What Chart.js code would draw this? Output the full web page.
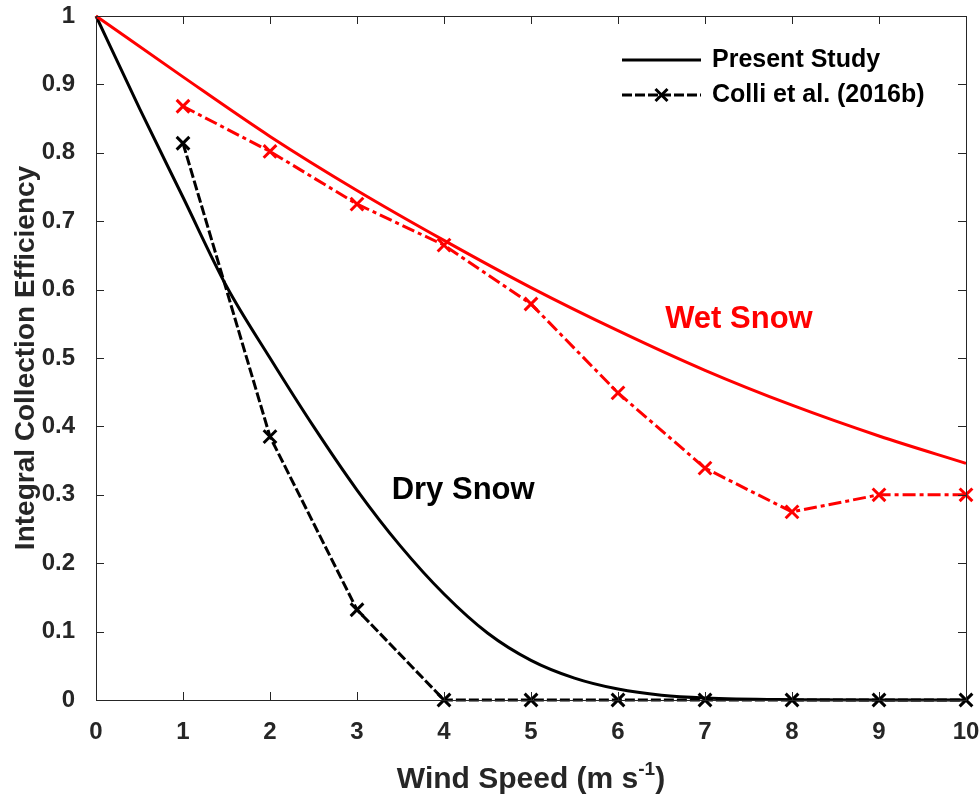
<!DOCTYPE html>
<html>
<head>
<meta charset="utf-8">
<script src="https://cdn.jsdelivr.net/npm/chart.js@4.4.1/dist/chart.umd.min.js"></script>
<style>
  html, body { margin: 0; padding: 0; background: #ffffff; }
</style>
</head>
<body>
<canvas id="chart" width="979" height="795"></canvas>
<script>
// values
const windSpeed = [0, 1, 2, 3, 4, 5, 6, 7, 8, 9, 10];
const wetPresent = [1, 0.911, 0.824, 0.745, 0.672, 0.603, 0.540, 0.482, 0.431, 0.386, 0.346];

const dryX = [0, 0.5, 1, 1.5, 2, 2.5, 3, 3.5, 4, 4.5, 5, 5.5, 6, 6.5, 7, 8, 9, 10];
const dryPresent = [1, 0.865, 0.735, 0.605, 0.50, 0.40, 0.307, 0.225, 0.155, 0.098, 0.058, 0.032, 0.016, 0.007, 0.003, 0.0005, 0, 0];

const colliX = [1, 2, 3, 4, 5, 6, 7, 8, 9, 10];
const colliWet = [0.868, 0.802, 0.725, 0.665, 0.579, 0.449, 0.339, 0.275, 0.30, 0.30];
const colliDry = [0.814, 0.385, 0.132, 0, 0, 0, 0, 0, 0, 0];

const FONT = '"Liberation Sans", Arial, Helvetica, sans-serif';
const AXIS_COLOR = '#262626';

const pts = (xs, ys) => xs.map((x, i) => ({ x: x, y: ys[i] }));

// MATLAB-like box, inward ticks, labels, legend and x title
const matlabFrame = {
  id: 'matlabFrame',
  afterDatasetsDraw(chart) {
    const { ctx, chartArea: a, scales: { x, y } } = chart;
    const tick = 8;
    ctx.save();

    // box + ticks
    ctx.strokeStyle = AXIS_COLOR;
    ctx.lineWidth = 1;
    ctx.strokeRect(a.left + 0.5, a.top + 0.5, a.right - a.left, a.bottom - a.top);
    ctx.beginPath();
    x.ticks.forEach(t => {
      const px = Math.round(x.getPixelForValue(t.value)) + 0.5;
      ctx.moveTo(px, a.bottom); ctx.lineTo(px, a.bottom - tick);
      ctx.moveTo(px, a.top); ctx.lineTo(px, a.top + tick);
    });
    y.ticks.forEach(t => {
      const py = Math.round(y.getPixelForValue(t.value)) + 0.5;
      ctx.moveTo(a.left, py); ctx.lineTo(a.left + tick, py);
      ctx.moveTo(a.right, py); ctx.lineTo(a.right - tick, py);
    });
    ctx.stroke();

    // curve labels
    ctx.font = 'bold 31px ' + FONT;
    ctx.textAlign = 'center';
    ctx.textBaseline = 'middle';
    ctx.fillStyle = '#ff0000';
    ctx.fillText('Wet Snow', x.getPixelForValue(7.39), y.getPixelForValue(0.556));
    ctx.fillStyle = '#000000';
    ctx.fillText('Dry Snow', x.getPixelForValue(4.22), y.getPixelForValue(0.307));

    // legend
    const lx0 = 622, lx1 = 701, tx = 712;
    const rows = [60, 95];
    ctx.strokeStyle = '#000000';
    ctx.lineWidth = 3;
    ctx.beginPath();
    ctx.moveTo(lx0, rows[0]); ctx.lineTo(lx1, rows[0]);
    ctx.stroke();
    ctx.setLineDash([10, 3]);
    ctx.beginPath();
    ctx.moveTo(lx0, rows[1]); ctx.lineTo(lx1, rows[1]);
    ctx.stroke();
    ctx.setLineDash([]);
    const cx = (lx0 + lx1) / 2, r = 6;
    ctx.beginPath();
    ctx.moveTo(cx - r, rows[1] - r); ctx.lineTo(cx + r, rows[1] + r);
    ctx.moveTo(cx - r, rows[1] + r); ctx.lineTo(cx + r, rows[1] - r);
    ctx.stroke();
    ctx.font = 'bold 25px ' + FONT;
    ctx.textAlign = 'left';
    ctx.fillStyle = '#000000';
    ctx.fillText('Present Study', tx, rows[0]);
    ctx.fillText('Colli et al. (2016b)', tx, rows[1]);

    // x title with superscript
    const main = 'Wind Speed (m s';
    const sup = '-1';
    const close = ')';
    ctx.font = 'bold 30px ' + FONT;
    const wMain = ctx.measureText(main).width;
    const wClose = ctx.measureText(close).width;
    ctx.font = 'bold 19px ' + FONT;
    const wSup = ctx.measureText(sup).width;
    const total = wMain + wSup + wClose;
    let sx = (a.left + a.right) / 2 - total / 2;
    const base = 788;
    ctx.fillStyle = AXIS_COLOR;
    ctx.textBaseline = 'alphabetic';
    ctx.font = 'bold 30px ' + FONT;
    ctx.fillText(main, sx, base);
    sx += wMain;
    ctx.font = 'bold 19px ' + FONT;
    ctx.fillText(sup, sx, base - 13);
    sx += wSup;
    ctx.font = 'bold 30px ' + FONT;
    ctx.fillText(close, sx, base);

    ctx.restore();
  }
};

new Chart(document.getElementById('chart'), {
  type: 'line',
  data: {
    datasets: [
      {
        label: 'Present Study (wet)',
        data: pts(windSpeed, wetPresent),
        borderColor: '#ff0000',
        borderWidth: 3,
        pointRadius: 0,
        cubicInterpolationMode: 'monotone',
        clip: 10
      },
      {
        label: 'Present Study (dry)',
        data: pts(dryX, dryPresent),
        borderColor: '#000000',
        borderWidth: 3,
        pointRadius: 0,
        cubicInterpolationMode: 'monotone',
        clip: 10
      },
      {
        label: 'Colli et al. (2016b) wet',
        data: pts(colliX, colliWet),
        borderColor: '#ff0000',
        borderWidth: 3,
        borderDash: [13, 4, 4, 4],
        pointStyle: 'crossRot',
        pointRadius: 9,
        pointBorderWidth: 3,
        pointBorderColor: '#ff0000',
        clip: false
      },
      {
        label: 'Colli et al. (2016b) dry',
        data: pts(colliX, colliDry),
        borderColor: '#000000',
        borderWidth: 3,
        borderDash: [10, 3],
        pointStyle: 'crossRot',
        pointRadius: 9,
        pointBorderWidth: 3,
        pointBorderColor: '#000000',
        clip: false
      }
    ]
  },
  options: {
    responsive: false,
    animation: false,
    layout: { padding: { top: 16, right: 13, left: 0, bottom: 0 } },
    plugins: {
      legend: { display: false },
      tooltip: { enabled: false }
    },
    scales: {
      x: {
        type: 'linear',
        min: 0,
        max: 10,
        grid: { display: false },
        border: { display: false },
        ticks: {
          stepSize: 1,
          padding: 10,
          color: AXIS_COLOR,
          font: { family: FONT, size: 24, weight: 'bold' }
        },
        afterFit: s => { s.height = 95; s.paddingLeft = 0; s.paddingRight = 0; }
      },
      y: {
        min: 0,
        max: 1,
        grid: { display: false },
        border: { display: false },
        ticks: {
          stepSize: 0.1,
          padding: 13,
          color: AXIS_COLOR,
          font: { family: FONT, size: 24, weight: 'bold' },
          callback: v => String(Math.round(v * 10) / 10)
        },
        title: {
          display: true,
          text: 'Integral Collection Efficiency',
          color: AXIS_COLOR,
          padding: { top: 9, bottom: 0 },
          font: { family: FONT, size: 28, weight: 'bold' }
        },
        afterFit: s => { s.width = 96; s.paddingTop = 0; s.paddingBottom = 0; }
      }
    }
  },
  plugins: [matlabFrame]
});
</script>
</body>
</html>
